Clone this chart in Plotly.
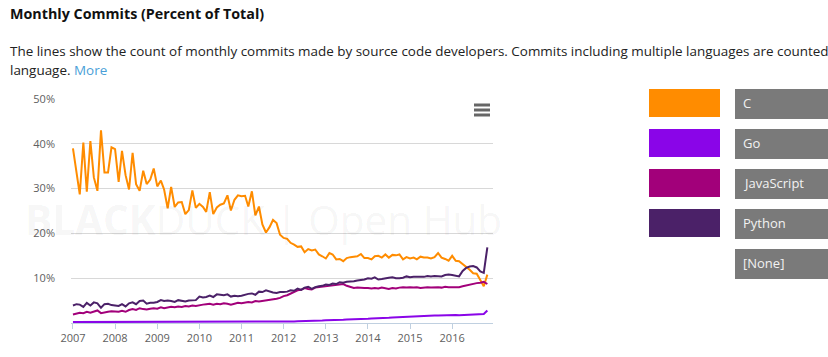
import pandas as pd
import plotly.graph_objects as go

# ---- data (percent of total monthly commits), Jan 2007 .. Nov 2016 ----
start_month = "2007-01-01"
n_months = 119

c_values = [
    39.0, 34.0, 28.7, 40.3, 29.3, 40.6, 32.5, 29.5, 43.0, 33.6, 33.6, 39.2,
    38.8, 31.5, 38.4, 33.0, 29.8, 38.0, 31.0, 29.5, 34.0, 31.0, 32.0, 34.5,
    30.5, 31.8, 29.8, 25.6, 30.4, 25.9, 26.9, 27.0, 24.3, 25.2, 29.6, 25.7,
    26.6, 25.9, 24.8, 29.2, 24.3, 25.8, 26.4, 26.7, 28.5, 25.1, 27.5, 28.5,
    28.3, 28.4, 26.0, 29.4, 24.0, 26.0, 22.0, 20.2, 21.4, 23.0, 22.3, 19.7,
    19.0, 18.8, 17.9, 17.5, 17.0, 17.1, 15.8, 16.5, 16.2, 16.4, 15.3, 14.9,
    14.4, 15.6, 15.3, 14.2, 14.3, 13.8, 14.5, 14.7, 14.8, 14.9, 15.4, 14.5,
    14.5, 14.2, 14.9, 15.0, 14.6, 15.3, 14.6, 15.2, 15.1, 15.3, 14.2, 14.7,
    14.4, 14.6, 14.2, 14.8, 14.6, 14.6, 14.4, 14.7, 15.6, 14.6, 14.3, 13.9,
    15.0, 13.9, 13.8, 13.2, 12.5, 11.9, 11.1, 11.0, 9.6, 8.2, 10.8,
]

go_values = [
    0.20, 0.20, 0.20, 0.20, 0.20, 0.20, 0.20, 0.20, 0.20, 0.20, 0.20, 0.20,
    0.20, 0.20, 0.20, 0.20, 0.20, 0.20, 0.20, 0.20, 0.20, 0.20, 0.20, 0.20,
    0.20, 0.20, 0.20, 0.20, 0.20, 0.20, 0.22, 0.22, 0.22, 0.22, 0.22, 0.22,
    0.25, 0.25, 0.25, 0.25, 0.25, 0.25, 0.25, 0.25, 0.25, 0.25, 0.25, 0.25,
    0.28, 0.28, 0.28, 0.28, 0.30, 0.30, 0.30, 0.30, 0.30, 0.30, 0.30, 0.30,
    0.30, 0.30, 0.35, 0.35, 0.40, 0.40, 0.45, 0.45, 0.50, 0.50, 0.55, 0.55,
    0.60, 0.60, 0.65, 0.70, 0.70, 0.75, 0.80, 0.80, 0.85, 0.90, 0.90, 0.90,
    0.95, 1.00, 1.00, 1.05, 1.10, 1.10, 1.15, 1.20, 1.25, 1.30, 1.35, 1.40,
    1.45, 1.50, 1.55, 1.60, 1.65, 1.60, 1.65, 1.70, 1.65, 1.70, 1.75, 1.70,
    1.75, 1.80, 1.75, 1.80, 1.80, 1.85, 1.80, 1.90, 1.90, 2.00, 2.80,
]

js_values = [
    1.9, 2.2, 2.3, 2.2, 2.5, 2.3, 2.6, 2.8, 2.2, 2.4, 2.5, 2.6,
    2.6, 2.5, 2.7, 2.5, 2.9, 3.1, 2.9, 3.3, 3.1, 3.0, 3.2, 3.3,
    3.2, 3.5, 3.3, 3.4, 3.6, 3.5, 3.7, 3.6, 3.8, 3.7, 3.9, 3.8,
    4.0, 4.1, 4.2, 4.3, 4.1, 4.3, 4.2, 4.4, 4.3, 4.1, 4.3, 4.5,
    4.4, 4.6, 4.7, 4.6, 4.9, 4.8, 4.9, 5.0, 5.1, 5.2, 5.4, 5.6,
    6.0, 6.2, 6.6, 7.0, 7.3, 7.4, 7.8, 7.6, 7.5, 7.9, 8.0, 8.1,
    8.2, 8.2, 8.3, 8.4, 8.5, 8.7, 8.3, 8.0, 7.8, 7.9, 7.8, 7.8,
    7.8, 7.7, 7.8, 7.7, 7.9, 7.7, 7.6, 7.8, 7.7, 7.9, 8.0, 7.9,
    8.0, 7.9, 8.0, 7.8, 7.9, 8.0, 7.9, 8.0, 8.0, 7.9, 8.1, 8.0,
    8.0, 8.1, 8.0, 8.2, 8.4, 8.6, 8.7, 8.9, 9.0, 9.2, 8.7,
]

python_values = [
    3.9, 4.2, 4.1, 3.6, 4.5, 3.9, 4.6, 4.4, 3.4, 4.2, 4.3, 4.0,
    3.9, 3.8, 4.2, 3.7, 4.4, 4.6, 4.2, 4.9, 5.0, 4.3, 4.5, 4.5,
    4.7, 5.1, 4.9, 5.0, 4.9, 4.7, 5.1, 5.0, 4.8, 5.0, 5.0, 5.1,
    5.9, 5.7, 5.8, 6.1, 5.8, 6.4, 6.3, 6.2, 6.4, 5.9, 6.1, 6.0,
    6.1, 6.4, 6.5, 6.6, 6.3, 7.0, 6.9, 7.3, 7.0, 6.8, 6.7, 6.9,
    6.9, 7.0, 7.3, 7.2, 7.7, 7.4, 7.9, 8.1, 7.6, 8.0, 8.2, 8.3,
    8.6, 8.5, 8.8, 8.7, 9.1, 9.0, 9.2, 9.2, 9.3, 9.5, 9.6, 9.7,
    10.0, 9.9, 10.2, 9.7, 9.8, 10.0, 10.1, 10.2, 10.0, 10.0, 10.1, 10.4,
    10.2, 10.3, 10.3, 10.4, 10.3, 10.5, 10.4, 10.5, 10.5, 10.4, 10.7, 10.8,
    10.7, 10.6, 10.4, 11.6, 12.3, 12.6, 12.7, 12.4, 11.5, 11.2, 16.9,
]

series_names = ["C", "Go", "JavaScript", "Python"]
series_colors = ["#FF8C00", "#8A05E8", "#A2007A", "#4B2168"]
legend_labels = ["C", "Go", "JavaScript", "Python", "[None]"]
y_tick_values = [10, 20, 30, 40, 50]
y_tick_labels = ["10%", "20%", "30%", "40%", "50%"]

months = pd.date_range(start=start_month, periods=n_months, freq="MS")
series_values = [c_values, go_values, js_values, python_values]

# ---- layout geometry (pixels) ----
W, H = 828, 357
PL, PR, PT, PB = 71, 493, 99, 323
FONT = "Open Sans, Noto Sans, DejaVu Sans, sans-serif"


def px(x):
    return (x - PL) / (PR - PL)


def py(y):
    return (PB - y) / (PB - PT)


fig = go.Figure()
for name, vals, col in zip(series_names, series_values, series_colors):
    fig.add_trace(go.Scatter(
        x=months, y=vals, name=name, mode="lines",
        line=dict(color=col, width=2), hoverinfo="skip", showlegend=False,
    ))

shapes = []
annotations = []

# title & description
annotations.append(dict(
    text="<b>Monthly Commits (Percent of Total)</b>", xref="paper", yref="paper",
    x=px(8), y=py(14), xanchor="left", yanchor="middle", showarrow=False,
    font=dict(family=FONT, size=14.3, color="#111111"),
))
annotations.append(dict(
    text=("The lines show the count of monthly commits made by source code developers. "
          "Commits including multiple languages are counted once for each"),
    xref="paper", yref="paper", x=px(8), y=py(51), xanchor="left", yanchor="middle",
    showarrow=False, font=dict(family=FONT, size=13.45, color="#222222"),
))
annotations.append(dict(
    text="language. <span style='color:#4A9FD8'>More</span>",
    xref="paper", yref="paper", x=px(8), y=py(70), xanchor="left", yanchor="middle",
    showarrow=False, font=dict(family=FONT, size=13.45, color="#222222"),
))

# watermark
annotations.append(dict(
    text="<b>BLACK</b>DUCK | Open Hub", xref="paper", yref="paper",
    x=px(263), y=py(219), xanchor="center", yanchor="middle", showarrow=False,
    font=dict(family=FONT, size=40.5, color="rgba(0,0,0,0.05)"),
))

# hamburger menu icon
for yy in (105, 110, 115):
    shapes.append(dict(type="line", xref="paper", yref="paper",
                       x0=px(474), x1=px(490), y0=py(yy), y1=py(yy),
                       line=dict(color="#666666", width=3)))

# custom legend on the right
for i, label in enumerate(legend_labels):
    top = 89 + 40 * i
    if i < len(series_colors):
        shapes.append(dict(type="rect", xref="paper", yref="paper",
                           x0=px(649), x1=px(720), y0=py(top), y1=py(top + 28),
                           fillcolor=series_colors[i], line=dict(width=0)))
    shapes.append(dict(type="rect", xref="paper", yref="paper",
                       x0=px(735), x1=px(860), y0=py(top), y1=py(top + 30),
                       fillcolor="#7A7A7A", line=dict(width=0)))
    annotations.append(dict(
        text=label, xref="paper", yref="paper", x=px(741), y=py(top + 14),
        xanchor="left", yanchor="middle", showarrow=False,
        font=dict(family=FONT, size=13, color="#F2F2F2"),
    ))

fig.update_layout(
    width=W, height=H,
    margin=dict(l=PL, r=W - PR, t=PT, b=H - PB, pad=0),
    paper_bgcolor="white", plot_bgcolor="white",
    font=dict(family=FONT),
    shapes=shapes, annotations=annotations,
    showlegend=False,
    xaxis=dict(
        range=["2006-12-15", "2016-12-20"], dtick="M12", tick0="2007-01-01",
        tickformat="%Y", showgrid=False, zeroline=False,
        showline=True, linecolor="#C0D0E0", linewidth=1,
        ticks="outside", ticklen=5, tickcolor="#C0D0E0",
        tickfont=dict(family=FONT, size=11, color="#606060"),
    ),
    yaxis=dict(
        range=[0, 50], tickmode="array", tickvals=y_tick_values, ticktext=y_tick_labels,
        showgrid=True, gridcolor="#D8D8D8", gridwidth=1, zeroline=False,
        showline=False, ticks="", ticklabelstandoff=15,
        tickfont=dict(family=FONT, size=11, color="#606060"),
    ),
)

fig.write_html(
    "out.html",
    config={"displayModeBar": False},
    post_script="document.body.style.margin='0';document.body.style.overflow='hidden';",
)
